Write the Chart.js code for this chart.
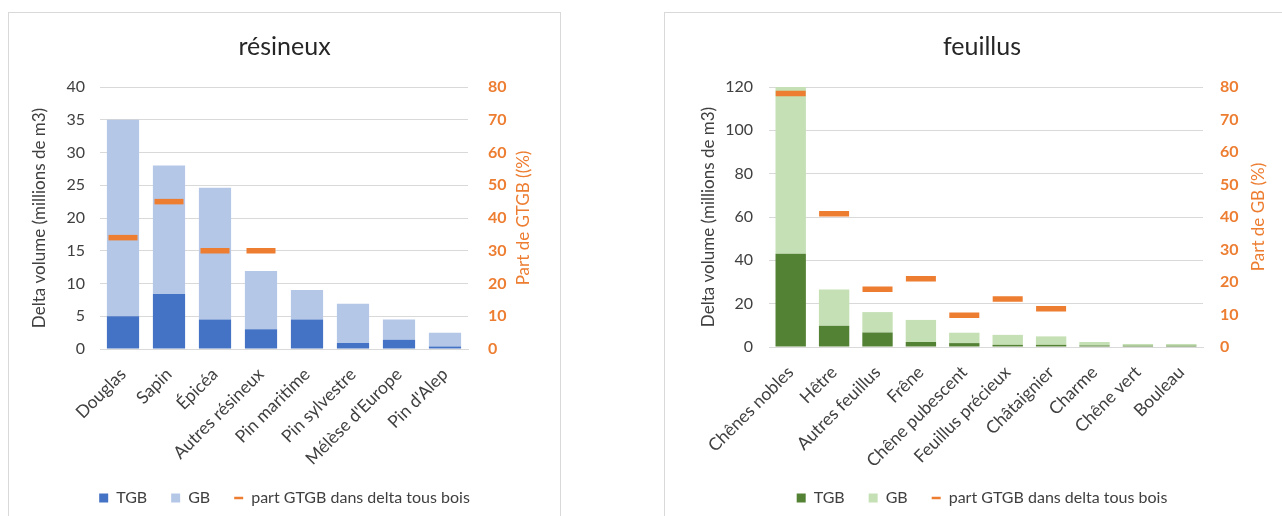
<!DOCTYPE html>
<html lang="fr">
<head>
<meta charset="utf-8">
<title>Delta volume GB / TGB</title>
<script src="https://cdn.jsdelivr.net/npm/chart.js@4.4.1/dist/chart.umd.min.js"></script>
<style>
  html, body { margin: 0; padding: 0; background: #fff; overflow: hidden; }
  body { width: 1282px; height: 516px; position: relative; }
  .panel { position: absolute; top: 12px; height: 520px; border: 1px solid #d9d9d9; background: #fff; }
  #panelRes { left: 8px; width: 551px; }
  #panelFeu { left: 664px; width: 700px; }
  canvas { display: block; }
</style>
</head>
<body>
<div class="panel" id="panelRes"><canvas id="chartRes" width="551" height="503"></canvas></div>
<div class="panel" id="panelFeu"><canvas id="chartFeu" width="634" height="503"></canvas></div>
<script>
// résineux
var resLabels = ['Douglas', 'Sapin', 'Épicéa', 'Autres résineux', 'Pin maritime', 'Pin sylvestre', "Mélèse d'Europe", "Pin d'Alep"];
var resTGB  = [5, 8.4, 4.5, 3.0, 4.5, 0.9, 1.4, 0.4];
var resGB   = [30, 19.6, 20.1, 8.9, 4.5, 6.0, 3.1, 2.1];
var resPart = [34, 45, 30, 30, null, null, null, null];

// feuillus
var feuLabels = ['Chênes nobles', 'Hêtre', 'Autres feuillus', 'Frêne', 'Chêne pubescent', 'Feuillus précieux', 'Châtaignier', 'Charme', 'Chêne vert', 'Bouleau'];
var feuTGB  = [43, 9.8, 6.7, 2.3, 1.8, 1.0, 1.0, 0.7, 0.6, 0.6];
var feuGB   = [77, 16.7, 9.4, 10.2, 4.8, 4.6, 3.9, 1.6, 0.8, 0.8];
var feuPart = [78, 41, 17.8, 21, 9.8, 14.8, 11.8, null, null, null];

var ORANGE = '#ed7d31';
var TEXT = '#404040';
var GRID = '#d9d9d9';
var FONT = 'Lato';

// Excel-style right axis title, read bottom to top
var rightTitle = {
    id: 'rightTitle',
    afterDraw: function(chart, args, opts) {
        var a = chart.chartArea;
        var ctx = chart.ctx;
        ctx.save();
        ctx.translate(a.right + opts.offset, (a.top + a.bottom) / 2);
        ctx.rotate(-Math.PI / 2);
        ctx.font = '17px ' + FONT;
        ctx.fillStyle = ORANGE;
        ctx.textAlign = 'center';
        ctx.textBaseline = 'middle';
        ctx.fillText(opts.text, 0, 0);
        ctx.restore();
    }
};

function buildChart(id, o) {
    var ctx = document.getElementById(id).getContext('2d');
    return new Chart(ctx, {
        data: {
            labels: o.labels,
            datasets: [{
                type: 'bar',
                label: 'TGB',
                data: o.tgb,
                backgroundColor: o.dark,
                order: 1,
                stack: 's'
            }, {
                type: 'bar',
                label: 'GB',
                data: o.gb,
                backgroundColor: o.light,
                order: 1,
                stack: 's'
            }, {
                type: 'line',
                label: 'part GTGB dans delta tous bois',
                data: o.part,
                yAxisID: 'y1',
                showLine: false,
                pointStyle: 'line',
                pointRadius: o.markRadius,
                pointHoverRadius: o.markRadius,
                pointBorderWidth: 5.5,
                pointHoverBorderWidth: 5.5,
                borderColor: ORANGE,
                backgroundColor: ORANGE,
                order: 0
            }]
        },
        options: {
            responsive: false,
            animation: false,
            layout: { padding: 0 },
            datasets: {
                bar: { categoryPercentage: 1, barPercentage: 0.7 }
            },
            plugins: {
                tooltip: { enabled: false },
                title: {
                    display: true,
                    text: o.title,
                    color: '#262626',
                    font: { family: FONT, size: 25, weight: 'normal' },
                    padding: { top: 19, bottom: 25 }
                },
                legend: {
                    position: 'bottom',
                    labels: {
                        color: TEXT,
                        font: { family: FONT, size: 16 },
                        usePointStyle: true,
                        boxWidth: 9,
                        boxHeight: 9,
                        pointStyleWidth: 9,
                        padding: 24,
                        sort: function(a, b) { return a.datasetIndex - b.datasetIndex; },
                        generateLabels: function(chart) {
                            var items = Chart.defaults.plugins.legend.labels.generateLabels(chart);
                            items.forEach(function(it) {
                                if (it.datasetIndex === 2) {
                                    it.pointStyle = 'line';
                                    it.lineWidth = 2.5;
                                    it.strokeStyle = ORANGE;
                                } else {
                                    it.pointStyle = 'rect';
                                    it.lineWidth = 0;
                                }
                            });
                            return items;
                        }
                    }
                },
                rightTitle: { text: o.y1Title, offset: 56 }
            },
            scales: {
                x: {
                    stacked: true,
                    grid: { display: false, drawTicks: false },
                    border: { display: true, color: GRID, width: 1 },
                    ticks: {
                        autoSkip: false,
                        minRotation: 45,
                        maxRotation: 45,
                        padding: 15,
                        color: TEXT,
                        font: { family: FONT, size: 17.5 }
                    },
                    afterFit: function(s) { s.height = o.xHeight; }
                },
                y: {
                    stacked: true,
                    min: 0,
                    max: o.yMax,
                    grid: { color: GRID, drawTicks: false },
                    border: { display: false },
                    ticks: {
                        stepSize: o.yStep,
                        padding: o.tickPad,
                        color: TEXT,
                        font: { family: FONT, size: 16 }
                    },
                    title: {
                        display: true,
                        text: 'Delta volume (millions de m3)',
                        color: TEXT,
                        font: { family: FONT, size: 17 },
                        padding: { top: o.yTitlePad, bottom: 0 }
                    },
                    afterFit: function(s) { s.width = o.leftW; }
                },
                y1: {
                    position: 'right',
                    min: 0,
                    max: 80,
                    grid: { display: false, drawTicks: false },
                    border: { display: false },
                    ticks: {
                        stepSize: 10,
                        padding: o.tickPad1,
                        color: ORANGE,
                        font: { family: FONT, size: 16, weight: 'bold' }
                    },
                    afterFit: function(s) { s.width = o.rightW; }
                }
            }
        },
        plugins: [rightTitle]
    });
}

buildChart('chartRes', {
    labels: resLabels, tgb: resTGB, gb: resGB, part: resPart,
    dark: '#4472c4', light: '#b4c7e7',
    title: 'résineux', y1Title: 'Part de GTGB ((%)',
    yMax: 40, yStep: 5,
    leftW: 91, rightW: 92, xHeight: 117,
    tickPad: 15, tickPad1: 20, yTitlePad: 20,
    markRadius: 14.5
});

buildChart('chartFeu', {
    labels: feuLabels, tgb: feuTGB, gb: feuGB, part: feuPart,
    dark: '#548235', light: '#c5e0b4',
    title: 'feuillus', y1Title: 'Part de GB (%)',
    yMax: 120, yStep: 20,
    leftW: 104, rightW: 96, xHeight: 119,
    tickPad: 16, tickPad1: 17, yTitlePad: 33,
    markRadius: 15
});
</script>
</body>
</html>
